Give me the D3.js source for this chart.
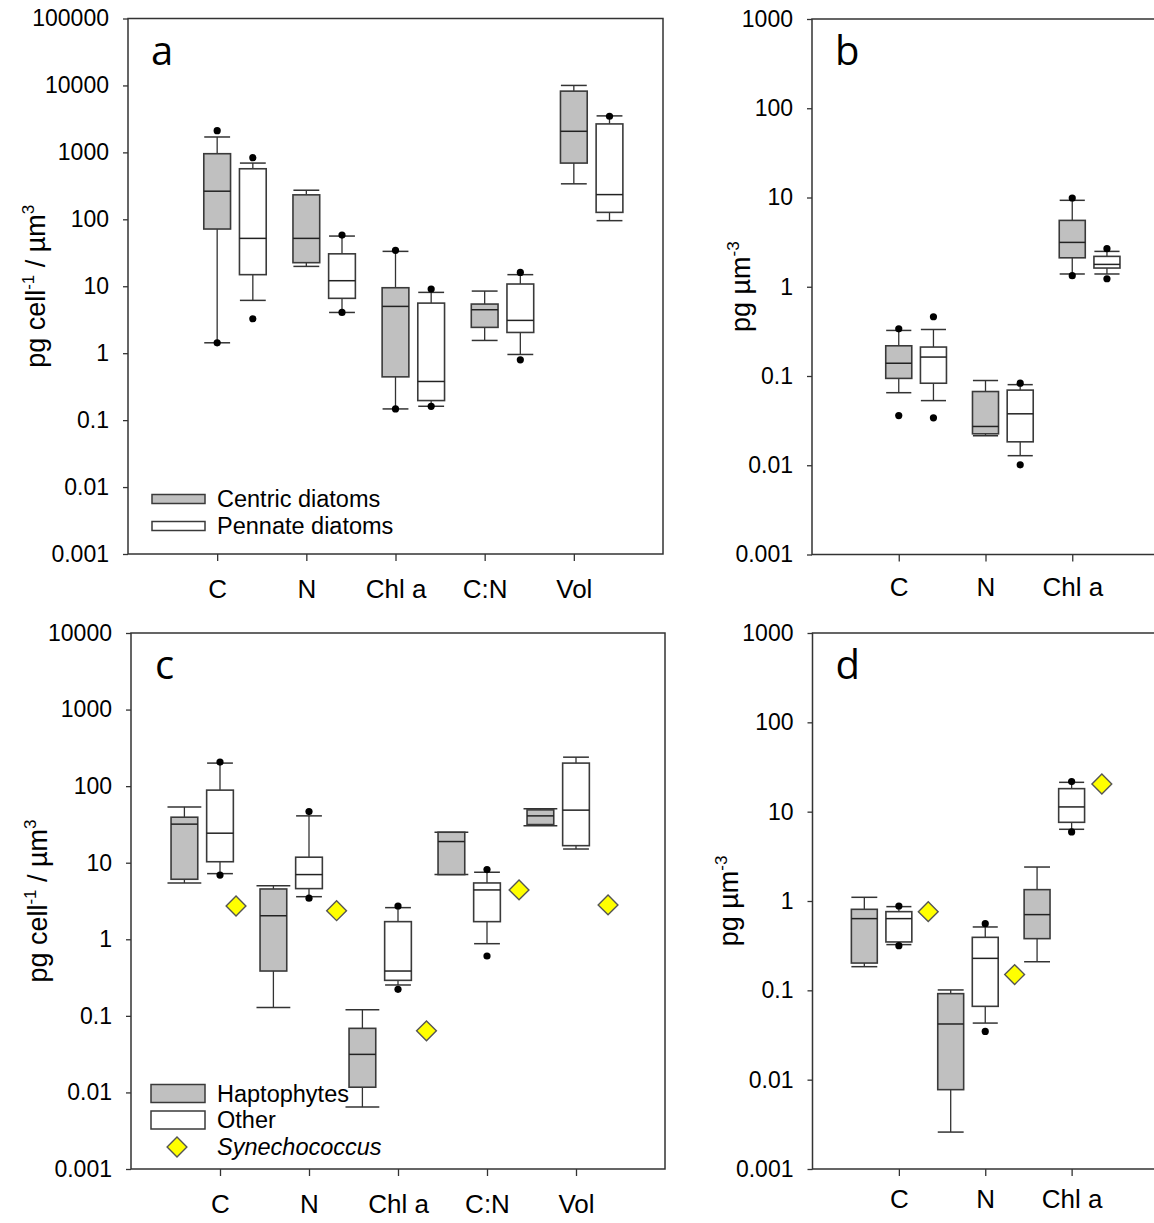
<!DOCTYPE html>
<html>
<head>
<meta charset="utf-8">
<script src="https://cdn.jsdelivr.net/npm/d3@7"></script>
<style>
  body { margin: 0; background: #fff; }
  text { font-family: "Liberation Sans", Arial, sans-serif; fill: #000; }
</style>
</head>
<body>
<svg id="fig" width="1154" height="1223"></svg>
<script>
// ---------- data ----------
// every box is [lower whisker, Q1, median, Q3, upper whisker]

// panel a : diatoms, per cell
const catsA = ["C", "N", "Chl a", "C:N", "Vol"];
const centricA = [
  [1.43, 71.6, 263, 955, 1698],
  [19.8, 22.5, 51.9, 232, 272],
  [0.147, 0.443, 5.0, 9.5, 33.2],
  [1.55, 2.43, 4.46, 5.42, 8.47],
  [339, 692, 2065, 8222, 10000]
];
const centricOutA = [[1.43, 2113], [], [0.147, 34.4], [], []];
const pennateA = [
  [6.15, 14.9, 51.9, 569, 692],
  [4.06, 6.6, 12.1, 30.5, 56.2],
  [0.161, 0.196, 0.378, 5.6, 8.1],
  [0.957, 2.04, 3.09, 10.8, 14.9],
  [95.5, 127, 234, 2661, 3508]
];
const pennateOutA = [[3.27, 832], [4.06, 58.2], [0.161, 9.08], [0.796, 16.1], [3467]];

// panel b : diatoms, per volume
const catsB = ["C", "N", "Chl a"];
const centricB = [
  [0.065, 0.094, 0.139, 0.218, 0.324],
  [0.0214, 0.0225, 0.0272, 0.067, 0.089],
  [1.39, 2.11, 3.14, 5.54, 9.3]
];
const centricOutB = [[0.036, 0.338], [], [1.33, 9.87]];
const pennateB = [
  [0.053, 0.083, 0.163, 0.211, 0.332],
  [0.0128, 0.0183, 0.0377, 0.0695, 0.080],
  [1.39, 1.62, 1.78, 2.19, 2.49]
];
const pennateOutB = [[0.034, 0.461], [0.0101, 0.083], [1.23, 2.67]];

// panel c : other groups, per cell
const catsC = ["C", "N", "Chl a", "C:N", "Vol"];
const haptoC = [
  [5.44, 6.08, 31.9, 39.3, 53.6],
  [0.129, 0.385, 2.03, 4.54, 5.02],
  [0.00643, 0.0117, 0.0314, 0.0687, 0.12],
  [7.0, 7.0, 18.9, 25.0, 25.0],
  [30.5, 31.5, 40.9, 49, 50.5]
];
const haptoOutC = [[], [], [], [], []];
const otherC = [
  [7.2, 10.3, 24.3, 88.7, 200],
  [3.6, 4.59, 7.0, 11.8, 40.9],
  [0.253, 0.291, 0.385, 1.70, 2.59],
  [0.876, 1.70, 4.41, 5.44, 7.51],
  [15.1, 16.7, 48.6, 200, 239]
];
const otherOutC = [[6.9, 206], [3.44, 46.5], [0.222, 2.72], [0.605, 8.13], []];
const synXC = [1.18, 2.31, 3.32, 4.36, 5.36];
const synC = [2.72, 2.36, 0.0638, 4.41, 2.81];

// panel d : other groups, per volume
const catsD = ["C", "N", "Chl a"];
const haptoD = [
  [0.184, 0.202, 0.635, 0.807, 1.10],
  [0.00259, 0.00773, 0.042, 0.0918, 0.101],
  [0.209, 0.379, 0.704, 1.34, 2.40]
];
const haptoOutD = [[], [], []];
const otherD = [
  [0.325, 0.348, 0.635, 0.76, 0.865],
  [0.043, 0.0662, 0.228, 0.392, 0.512],
  [6.35, 7.6, 11.3, 18.1, 21.3]
];
const otherOutD = [[0.316, 0.879], [0.0347, 0.558], [5.93, 21.7]];
const synXD = [1.34, 2.34, 3.35];
const synD = [0.76, 0.15, 20.4];

// y tick values and their labels
const ticksA = [0.001, 0.01, 0.1, 1, 10, 100, 1000, 10000, 100000];
const tickLabelsA = ["0.001", "0.01", "0.1", "1", "10", "100", "1000", "10000", "100000"];
const ticksC = ticksA.slice(0, 8);
const tickLabelsC = tickLabelsA.slice(0, 8);
const ticksBD = ticksA.slice(0, 7);
const tickLabelsBD = tickLabelsA.slice(0, 7);

// ---------- drawing ----------
const svg = d3.select("#fig");
const grey = "#c0c0c0";
const ink = "#333";

function panel(p) {
  const x = d3.scaleLinear().domain([0, p.xMax]).range([p.left, p.right]);
  const y = d3.scaleLog().domain([p.yTicks[0], p.yTicks[p.yTicks.length - 1]]).range([p.bottom, p.top]);
  const g = svg.append("g");

  // y axis
  g.append("g")
    .attr("transform", `translate(${p.left},0)`)
    .call(d3.axisLeft(y).tickValues(p.yTicks).tickFormat((d, i) => p.yLabels[i])
      .tickSize(5).tickSizeOuter(0).tickPadding(14))
    .call(a => a.select(".domain").remove())
    .call(a => a.selectAll("line").attr("stroke", ink).attr("stroke-width", 1.3))
    .call(a => a.selectAll("text").attr("font-size", 23).attr("font-family", null));

  // x axis, category ticks at 1..n
  g.append("g")
    .attr("transform", `translate(0,${p.bottom})`)
    .call(d3.axisBottom(x).tickValues(d3.range(1, p.cats.length + 1))
      .tickFormat((d, i) => p.cats[i]).tickSize(7).tickSizeOuter(0).tickPadding(p.labelPad))
    .call(a => a.select(".domain").remove())
    .call(a => a.selectAll("line").attr("stroke", ink).attr("stroke-width", 1.3))
    .call(a => a.selectAll("text").attr("font-size", 26).attr("font-family", null));

  // frame
  g.append("rect")
    .attr("x", p.left).attr("y", p.top)
    .attr("width", p.right - p.left).attr("height", p.bottom - p.top)
    .attr("fill", "none").attr("stroke", ink).attr("stroke-width", 1.5);

  const bw = x(0.3) - x(0);

  p.series.forEach(s => {
    const cw = x(s.cap) - x(0);
    const sg = g.append("g");
    s.box.forEach((b, i) => {
      const cx = x(i + 1 + s.offset);
      // whiskers
      sg.append("line").attr("x1", cx).attr("x2", cx).attr("y1", y(b[0])).attr("y2", y(b[1]))
        .attr("stroke", ink).attr("stroke-width", 1.3);
      sg.append("line").attr("x1", cx).attr("x2", cx).attr("y1", y(b[3])).attr("y2", y(b[4]))
        .attr("stroke", ink).attr("stroke-width", 1.3);
      [b[0], b[4]].forEach(v => {
        sg.append("line").attr("x1", cx - cw / 2).attr("x2", cx + cw / 2)
          .attr("y1", y(v)).attr("y2", y(v))
          .attr("stroke", ink).attr("stroke-width", 1.5);
      });
      // box
      sg.append("rect")
        .attr("x", cx - bw / 2).attr("width", bw)
        .attr("y", y(b[3])).attr("height", y(b[1]) - y(b[3]))
        .attr("fill", s.fill).attr("stroke", "#3a3a3a").attr("stroke-width", 1.6);
      sg.append("line").attr("x1", cx - bw / 2).attr("x2", cx + bw / 2)
        .attr("y1", y(b[2])).attr("y2", y(b[2]))
        .attr("stroke", "#222").attr("stroke-width", 1.5);
      // outliers
      s.out[i].forEach(v => {
        sg.append("circle").attr("cx", cx).attr("cy", y(v)).attr("r", 3.6).attr("fill", "#000");
      });
    });
  });

  if (p.syn) {
    g.selectAll(".syn")
      .data(p.syn)
      .join("path")
      .attr("d", d3.symbol(d3.symbolSquare, 196))
      .attr("transform", (d, i) => `translate(${x(p.synX[i])},${y(d)}) rotate(45)`)
      .attr("fill", "#ffff00").attr("stroke", "#555").attr("stroke-width", 1.4);
  }

  // panel letter
  g.append("text")
    .attr("x", p.left + p.letterDx).attr("y", p.top + 46)
    .attr("font-size", 40).style("font-family", "'Open Sans', sans-serif")
    .text(p.letter);

  // y title
  const t = g.append("text")
    .attr("transform", `translate(${p.titleX},${(p.top + p.bottom) / 2}) rotate(-90)`)
    .attr("text-anchor", "middle").attr("font-size", 27);
  p.title.forEach(part => {
    const ts = t.append("tspan").text(part.t);
    if (part.sup) ts.attr("font-size", 17).attr("dy", -11);
    else if (part.after) ts.attr("dy", 11);
  });

  return { x, y, g };
}

const titleCell = [{ t: "pg cell" }, { t: "-1", sup: true }, { t: " / \u00b5m", after: true }, { t: "3", sup: true }];
const titleVol = [{ t: "pg \u00b5m" }, { t: "-3", sup: true }];

// a
panel({
  letter: "a", left: 128, right: 663, top: 18.5, bottom: 554, xMax: 6,
  cats: catsA, yTicks: ticksA, yLabels: tickLabelsA, labelPad: 19, letterDx: 23, titleX: 45,
  title: titleCell,
  series: [
    { box: centricA, out: centricOutA, offset: 0, fill: grey, cap: 0.29 },
    { box: pennateA, out: pennateOutA, offset: 0.4, fill: "#fff", cap: 0.29 }
  ]
});

// b
panel({
  letter: "b", left: 812, right: 1159, top: 19, bottom: 554.5, xMax: 4,
  cats: catsB, yTicks: ticksBD, yLabels: tickLabelsBD, labelPad: 16, letterDx: 23, titleX: 750,
  title: titleVol,
  series: [
    { box: centricB, out: centricOutB, offset: 0, fill: grey, cap: 0.29 },
    { box: pennateB, out: pennateOutB, offset: 0.4, fill: "#fff", cap: 0.29 }
  ]
});

// c
panel({
  letter: "c", left: 131, right: 665, top: 633, bottom: 1169, xMax: 6,
  cats: catsC, yTicks: ticksC, yLabels: tickLabelsC, labelPad: 19, letterDx: 24, titleX: 47,
  title: titleCell, syn: synC, synX: synXC,
  series: [
    { box: haptoC, out: haptoOutC, offset: -0.4, fill: grey, cap: 0.38 },
    { box: otherC, out: otherOutC, offset: 0, fill: "#fff", cap: 0.29 }
  ]
});

// d
panel({
  letter: "d", left: 812.5, right: 1158, top: 633, bottom: 1169, xMax: 4,
  cats: catsD, yTicks: ticksBD, yLabels: tickLabelsBD, labelPad: 14, letterDx: 23, titleX: 738,
  title: titleVol, syn: synD, synX: synXD,
  series: [
    { box: haptoD, out: haptoOutD, offset: -0.4, fill: grey, cap: 0.3 },
    { box: otherD, out: otherOutD, offset: 0, fill: "#fff", cap: 0.29 }
  ]
});

// legends
const legA = svg.append("g").attr("font-size", 23.5);
[["Centric diatoms", grey, 499], ["Pennate diatoms", "#fff", 526]].forEach(([lab, fill, cy]) => {
  legA.append("rect").attr("x", 152).attr("y", cy - 4.5).attr("width", 53).attr("height", 9)
    .attr("fill", fill).attr("stroke", "#3a3a3a").attr("stroke-width", 1.5);
  legA.append("text").attr("x", 217).attr("y", cy).attr("dy", "0.35em").text(lab);
});

const legC = svg.append("g").attr("font-size", 23.5);
[["Haptophytes", grey, 1093.5], ["Other", "#fff", 1120]].forEach(([lab, fill, cy]) => {
  legC.append("rect").attr("x", 151).attr("y", cy - 9).attr("width", 54).attr("height", 18)
    .attr("fill", fill).attr("stroke", "#3a3a3a").attr("stroke-width", 1.5);
  legC.append("text").attr("x", 217).attr("y", cy).attr("dy", "0.35em").text(lab);
});
legC.append("path")
  .attr("d", d3.symbol(d3.symbolSquare, 196))
  .attr("transform", "translate(177,1147) rotate(45)")
  .attr("fill", "#ffff00").attr("stroke", "#555").attr("stroke-width", 1.4);
legC.append("text").attr("x", 217).attr("y", 1147).attr("dy", "0.35em")
  .attr("font-style", "italic").text("Synechococcus");
</script>
</body>
</html>
